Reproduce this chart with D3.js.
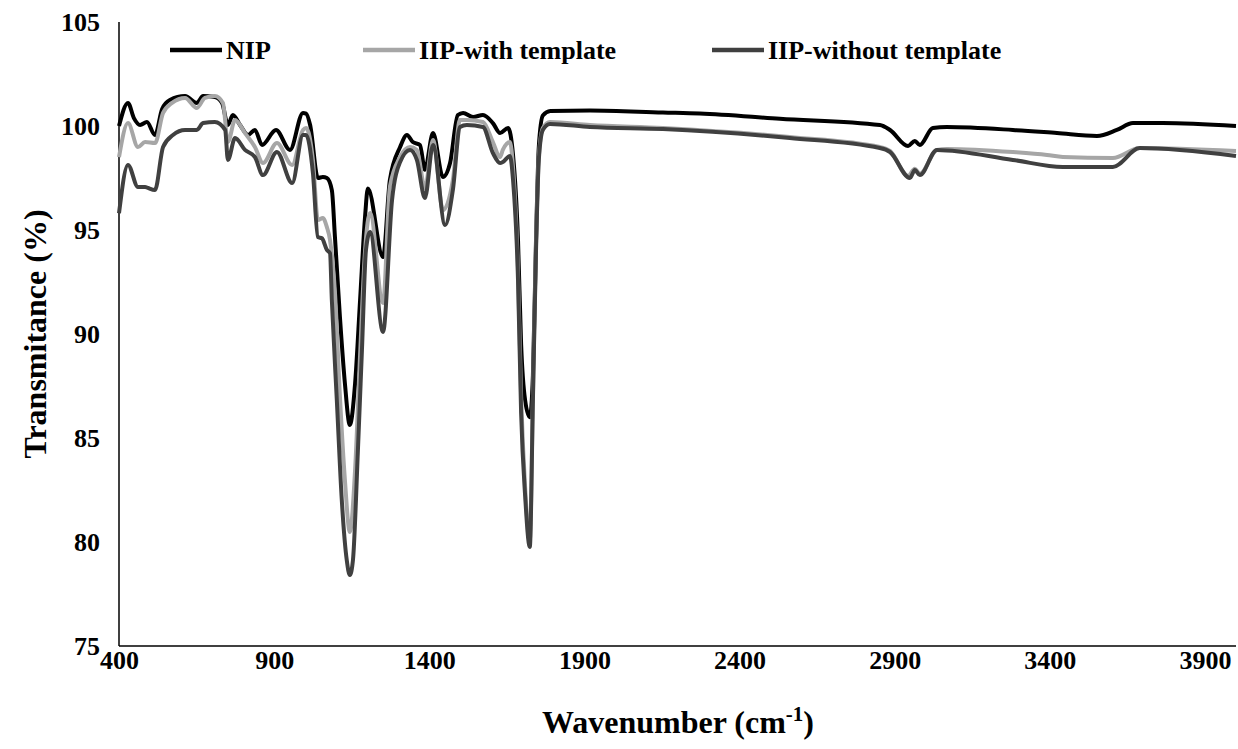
<!DOCTYPE html>
<html>
<head>
<meta charset="utf-8">
<script src="https://cdn.jsdelivr.net/npm/d3@7"></script>
<style>
  body { margin: 0; background: #fff; }
  text { font-family: "Liberation Serif", "Times New Roman", serif; font-weight: bold; fill: #000; }
</style>
</head>
<body>
<svg id="chart" width="1238" height="749"></svg>
<script>
// FTIR spectra, [wavenumber cm-1, transmittance %]
const nip = [
  [400, 100.0], [429, 101.11], [448, 100.38], [468, 100.05], [490, 100.19], [516, 99.57],
  [539, 100.82], [564, 101.25], [613, 101.44], [651, 101.11], [671, 101.44], [709, 101.39],
  [732, 101.11], [751, 100.05], [767, 100.53], [790, 100.05], [816, 99.57], [838, 99.81],
  [861, 99.09], [906, 99.81], [951, 98.85], [993, 100.63], [1003, 100.6], [1016, 100.05],
  [1041, 97.5], [1057, 97.55], [1070, 97.5], [1086, 96.92], [1096, 94.66], [1112, 90.82],
  [1128, 87.64], [1144, 85.63], [1161, 87.64], [1177, 91.63], [1193, 95.63], [1202, 97.0],
  [1251, 93.7], [1273, 97.4], [1306, 98.99], [1328, 99.57], [1347, 99.23], [1370, 99.09],
  [1386, 97.9], [1412, 99.66], [1444, 97.55], [1467, 98.22], [1492, 100.53], [1509, 100.63],
  [1541, 100.43], [1573, 100.53], [1605, 100.14], [1628, 99.66], [1654, 99.9], [1670, 98.6],
  [1686, 94.5], [1696, 89.5], [1709, 86.8], [1724, 86.0], [1734, 88.0], [1744, 94.5],
  [1753, 99.0], [1766, 100.5], [1790, 100.72], [1918, 100.75], [2153, 100.65], [2272, 100.6],
  [2530, 100.35], [2852, 100.05], [2885, 99.81], [2943, 99.04], [2965, 99.28], [2981, 99.09],
  [3023, 99.9], [3068, 99.95], [3281, 99.81], [3423, 99.66], [3552, 99.52], [3616, 99.81],
  [3668, 100.14], [3764, 100.14], [4000, 100.0]
];

const iipWith = [
  [400, 98.5], [429, 100.14], [461, 98.99], [484, 99.23], [516, 99.18], [542, 100.63],
  [571, 101.11], [613, 101.35], [651, 100.87], [677, 101.35], [709, 101.44], [735, 101.11],
  [751, 99.23], [774, 100.29], [806, 99.66], [838, 98.99], [864, 98.22], [909, 99.18],
  [958, 98.13], [993, 99.81], [1003, 99.9], [1025, 98.37], [1041, 95.48], [1057, 95.58],
  [1070, 95.14], [1080, 94.52], [1096, 92.0], [1112, 87.0], [1128, 83.0], [1144, 80.48],
  [1161, 83.5], [1177, 89.0], [1193, 94.0], [1209, 95.82], [1251, 91.49], [1273, 97.07],
  [1306, 98.51], [1338, 98.99], [1360, 98.85], [1386, 97.02], [1412, 99.33], [1444, 95.96],
  [1476, 97.4], [1499, 100.29], [1521, 100.29], [1573, 100.19], [1605, 99.23], [1628, 98.51],
  [1637, 98.85], [1660, 99.23], [1670, 98.0], [1686, 93.0], [1696, 87.0], [1709, 82.6],
  [1724, 80.1], [1734, 87.0], [1744, 94.3], [1753, 98.5], [1766, 99.9], [1789, 100.19],
  [1918, 100.05], [2153, 99.9], [2562, 99.47], [2852, 98.99], [2885, 98.8], [2943, 97.6],
  [2965, 97.95], [2981, 97.7], [3036, 98.85], [3068, 98.9], [3281, 98.75], [3391, 98.61],
  [3442, 98.51], [3603, 98.46], [3690, 98.94], [4000, 98.8]
];

const iipWithout = [
  [400, 95.8], [429, 98.13], [461, 97.07], [484, 97.07], [493, 97.02], [516, 96.92],
  [542, 98.99], [574, 99.57], [613, 99.81], [651, 99.81], [671, 100.14], [709, 100.19],
  [742, 99.81], [751, 98.37], [774, 99.42], [806, 98.85], [838, 98.51], [864, 97.64],
  [909, 98.75], [958, 97.26], [993, 99.57], [1003, 99.57], [1025, 97.74], [1041, 94.66],
  [1054, 94.6], [1070, 94.04], [1080, 93.89], [1086, 91.63], [1102, 86.83], [1118, 82.02],
  [1134, 79.13], [1144, 78.41], [1154, 79.13], [1170, 84.42], [1183, 89.23], [1196, 94.04],
  [1209, 94.9], [1251, 90.1], [1280, 96.44], [1306, 98.27], [1338, 98.85], [1360, 98.37],
  [1386, 96.54], [1412, 99.09], [1451, 95.24], [1476, 96.92], [1499, 99.95], [1521, 100.05],
  [1573, 99.95], [1605, 98.7], [1628, 98.22], [1637, 98.27], [1660, 98.56], [1670, 97.4],
  [1686, 92.6], [1696, 86.2], [1709, 82.2], [1724, 79.76], [1734, 86.8], [1744, 94.0],
  [1753, 98.37], [1766, 99.81], [1789, 100.1], [1918, 99.95], [2153, 99.85], [2562, 99.42],
  [2852, 98.94], [2885, 98.75], [2949, 97.5], [2965, 97.88], [2981, 97.64], [3036, 98.85],
  [3281, 98.37], [3442, 98.03], [3603, 98.03], [3690, 98.94], [4000, 98.56]
];

const seriesNames = ["NIP", "IIP-with template", "IIP-without template"];
const xTicks = [400, 900, 1400, 1900, 2400, 2900, 3400, 3900];
const yTicks = [75, 80, 85, 90, 95, 100, 105];

const colors = ["#000000", "#a6a6a6", "#404040"];
const series = [nip, iipWith, iipWithout];

const serif = "'Liberation Serif', 'Times New Roman', serif";
const margin = { left: 119, right: 1236, top: 22, bottom: 646 };

const svg = d3.select("#chart");

const x = d3.scaleLinear().domain([400, 4000]).range([margin.left, margin.right]);
const y = d3.scaleLinear().domain([75, 105]).range([margin.bottom, margin.top]);

// axes
const yAxis = d3.axisLeft(y).tickValues(yTicks).tickFormat(d3.format("d"))
  .tickSize(0).tickPadding(19);
const xAxis = d3.axisBottom(x).tickValues(xTicks).tickFormat(d3.format("d"))
  .tickSize(0).tickPadding(5);

const gy = svg.append("g")
  .attr("transform", `translate(${margin.left},0)`)
  .call(yAxis);

const gx = svg.append("g")
  .attr("transform", `translate(0,${margin.bottom})`)
  .call(xAxis);

[gx, gy].forEach(g => {
  g.attr("font-family", serif).attr("font-size", 26).attr("font-weight", "bold");
  g.select(".domain").attr("stroke", "#000").attr("stroke-width", 1.5);
  g.selectAll("text").attr("fill", "#000");
});
gy.select(".domain").attr("d", `M0,${margin.bottom}V${margin.top}`);
gx.select(".domain").attr("d", `M${margin.left},0H${margin.right}`);

// lines
const line = d3.line()
  .x(d => x(d[0]))
  .y(d => y(d[1]))
  .curve(d3.curveMonotoneX);

svg.append("g")
  .selectAll("path")
  .data(series)
  .join("path")
  .attr("fill", "none")
  .attr("stroke", (d, i) => colors[i])
  .attr("stroke-width", 4)
  .attr("stroke-linejoin", "round")
  .attr("d", line);

// legend
const legendX = [170, 363, 712];
const legend = svg.append("g")
  .attr("font-family", serif).attr("font-weight", "bold").attr("font-size", 26);
seriesNames.forEach((name, i) => {
  legend.append("line")
    .attr("x1", legendX[i]).attr("x2", legendX[i] + 52)
    .attr("y1", 50).attr("y2", 50)
    .attr("stroke", colors[i])
    .attr("stroke-width", 4.5);
  legend.append("text")
    .attr("x", legendX[i] + 56)
    .attr("y", 59)
    .text(name);
});

// axis titles
svg.append("text")
  .attr("x", 678)
  .attr("y", 733)
  .attr("text-anchor", "middle")
  .attr("font-family", serif).attr("font-weight", "bold").attr("font-size", 32)
  .text("Wavenumber (cm")
  .call(t => t.append("tspan").attr("dy", -12).attr("font-size", 21).text("-1"))
  .call(t => t.append("tspan").attr("dy", 12).text(")"));

svg.append("text")
  .attr("transform", `translate(46,${(margin.top + margin.bottom) / 2}) rotate(-90)`)
  .attr("text-anchor", "middle")
  .attr("font-family", serif).attr("font-weight", "bold").attr("font-size", 32)
  .text("Transmitance (%)");
</script>
</body>
</html>
